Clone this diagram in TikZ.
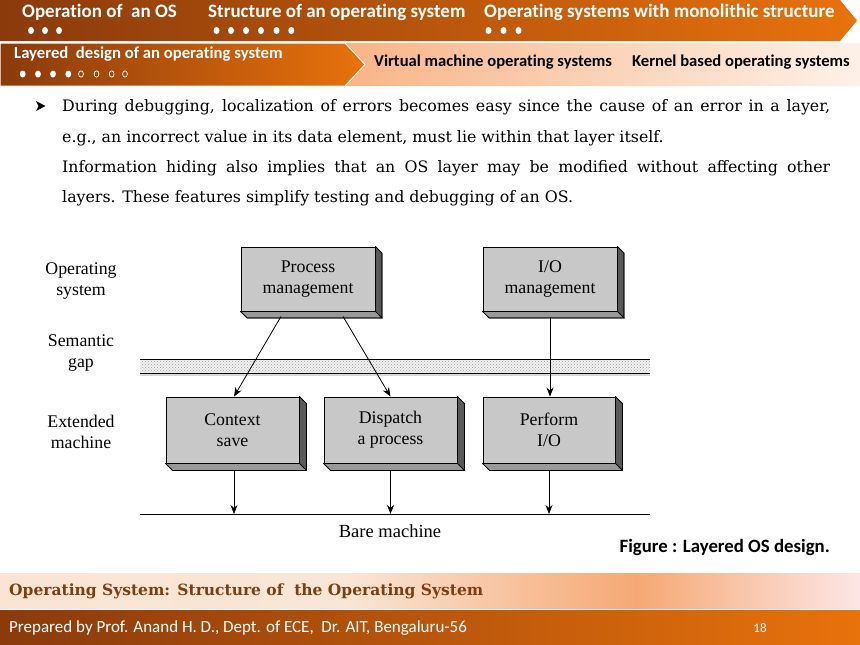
\documentclass[tikz,border=0pt]{standalone}
\usepackage{fontspec}
\setmainfont{Liberation Serif}
\newfontfamily\hdfont[Ligatures=CommonOff]{Carlito}
\newfontfamily\bodyfont{DejaVu Serif}
\usetikzlibrary{arrows.meta,patterns,calc}
\definecolor{hdark}{HTML}{8A3A0C}
\definecolor{horange}{HTML}{E8720C}
\definecolor{peachA}{HTML}{F8B486}
\definecolor{peachB}{HTML}{FDF1E8}
\definecolor{footA}{HTML}{FBE4D3}
\definecolor{footB}{HTML}{FAE6D6}
\definecolor{footC}{HTML}{F5A874}
\definecolor{footD}{HTML}{FCE6E6}
\definecolor{foottext}{HTML}{7B3F12}
\definecolor{boxgray}{HTML}{C8C8C8}
\pgfdeclarehorizontalshading{footband}{100bp}{color(0bp)=(footA); color(25bp)=(footA); color(45bp)=(footB); color(62bp)=(footC); color(75bp)=(footD); color(100bp)=(footD)}
\tikzset{
  hdtext/.style={font=\hdfont\bfseries\fontsize{19}{22}\selectfont, text=white, anchor=west, inner sep=0pt},
  subtext/.style={font=\hdfont\bfseries\fontsize{16.6}{19}\selectfont, text=black, anchor=west, inner sep=0pt},
  layerbox/.style={draw=black, line width=0.9pt, fill=boxgray, align=center, inner sep=0pt,
     font=\fontsize{17.8}{21}\selectfont},
  sideface/.style={fill=black!65, draw=black, line width=0.6pt},
  bottomface/.style={fill=black!40, draw=black, line width=0.6pt},
  layerlabel/.style={align=center, inner sep=0pt, font=\fontsize{17.8}{21}\selectfont},
  arr/.style={-{Stealth[length=9pt,width=7pt]}, line width=0.8pt},
  bodyline/.style={anchor=base west, inner sep=0pt, font=\bodyfont\fontsize{15.8}{18}\selectfont},
  wdot/.style={fill=white},
}
\newcommand{\threed}[2]{%
  \fill[sideface] (#1.north east) -- ++(#2,#2) |- ([xshift=#2pt,yshift=-#2pt]#1.south east) -- (#1.south east) -- cycle;
  \fill[bottomface] (#1.south west) -- (#1.south east) -- ++(#2,#2) -- ([xshift=#2pt,yshift=-#2pt]#1.south west) -- cycle;
  \draw[line width=0.6pt] (#1.north east) -- ++(#2,#2) -- ([xshift=#2pt,yshift=-#2pt]#1.south east) -- ([xshift=#2pt,yshift=-#2pt]#1.south west) -- (#1.south west);
  \draw[line width=0.6pt] (#1.south east) -- ([xshift=#2pt,yshift=-#2pt]#1.south east);
}
\begin{document}
\begin{tikzpicture}[x=1pt,y=-1pt]
\useasboundingbox (0,0) rectangle (860,645);
\fill[white] (0,0) rectangle (860,645);
% ---------- header row 1
\shade[left color=hdark, right color=horange] (0,0) -- (840,0) -- (857,20.5) -- (840,41) -- (0,41) -- cycle;
\node[hdtext] (h1) at (22,12) {Operation of \ an OS};
\node[hdtext] (h2) at (208,12) {Structure of an operating system};
\node[hdtext] (h3) at (484,12) {Operating systems with monolithic structure};
\foreach \x in {31,45,59} \fill[wdot] (\x,30.5) ellipse (3 and 3.6);
\foreach \x in {216.5,231,246,261,276.5,291.3} \fill[wdot] (\x,30.5) ellipse (3 and 3.6);
\foreach \x in {488.5,503.5,518.5} \fill[wdot] (\x,30.5) ellipse (3 and 3.6);
% ---------- header row 2
\shade[left color=peachA, right color=peachB] (340,43) -- (860,43) -- (860,86) -- (340,86) -- (358,64.5) -- cycle;
\shade[left color=hdark, right color=horange, draw=white, line width=1pt] (0,43) -- (345,43) -- (365,64.5) -- (345,86) -- (0,86) -- cycle;
\node[hdtext, font=\hdfont\bfseries\fontsize{16.7}{19}\selectfont] (h4) at (14,54) {Layered \ design of an operating system};
\foreach \x in {22.7,38,53,68.3} \fill[wdot] (\x,74) ellipse (2.9 and 3.5);
\foreach \x in {81,96.5,111.7,125} \draw[white, line width=0.7pt] (\x,74) ellipse (2.4 and 3.2);
\node[subtext] (h5) at (374,62) {Virtual machine operating systems};
\node[subtext] (h6) at (632,62) {Kernel based operating systems};
% ---------- body text
\fill[black] (36,101) -- (45.5,106) -- (36,111) -- (38.5,106) -- cycle;
\node[bodyline] (t1) at (62,111.5) {\makebox[768pt][s]{During debugging, localization of errors becomes easy since the cause of an error in a layer,}};
\node[bodyline] (t2) at (62,142) {e.g., an incorrect value in its data element, must lie within that layer itself.};
\node[bodyline] (t3) at (62,172.5) {\makebox[768pt][s]{Information hiding also implies that an OS layer may be modified without affecting other}};
\node[bodyline] (t4) at (62,202.5) {layers. These features simplify testing and debugging of an OS.};
% ---------- diagram
\node[layerlabel] (l1) at (81,281.5) {Operating\\system};
\node[layerlabel] (l2) at (81,353.5) {Semantic\\gap};
\node[layerlabel] (l3) at (81,432) {Extended\\machine};
% semantic gap band
\coordinate (sgL) at (140,359.5);
\coordinate (sgR) at (650,373);
\fill[black!5] (sgL) rectangle (sgR);
\fill[pattern=crosshatch dots, pattern color=black!40] (sgL) rectangle (sgR);
\fill[black!15] (140,373) rectangle (650,376);
\draw[line width=1.3pt] (sgL) -- (sgL -| sgR);
\draw[line width=1pt] (sgL |- sgR) -- (sgR);
% boxes
\node[layerbox, minimum width=134pt, minimum height=64pt] (pm) at (308,279) {Process\\management};
\node[layerbox, minimum width=134pt, minimum height=64pt] (io) at (550,279) {I/O\\management};
\node[layerbox, minimum width=133pt, minimum height=66pt] (cs) at (232.5,430) {Context\\save};
\node[layerbox, minimum width=133pt, minimum height=66pt] (dp) at (390.5,430) {Dispatch\\a process};
\node[layerbox, minimum width=132pt, minimum height=66pt] (pf) at (549,430) {Perform\\I/O};
\threed{pm}{6.5}
\threed{io}{6.5}
\threed{cs}{7}
\threed{dp}{7}
\threed{pf}{7}
% arrows from OS layer
\draw[arr] ([xshift=-27pt,yshift=-5pt]pm.south) -- ([xshift=1.5pt]cs.north);
\draw[arr] ([xshift=35pt,yshift=-5pt]pm.south) -- (dp.north);
\draw[arr] ([yshift=-6pt]io.south) -- (io.south |- pf.north);
% bare machine
\coordinate (bmL) at (140,514);
\coordinate (bmR) at (650,514);
\draw[line width=1pt] (bmL) -- (bmR);
\node[layerlabel, font=\fontsize{18.5}{21}\selectfont] (bm) at (390,531) {Bare machine};
\draw[arr] ([xshift=1.5pt,yshift=-7pt]cs.south) -- ([xshift=1.5pt]cs.south |- bmL);
\draw[arr] ([yshift=-7pt]dp.south) -- (dp.south |- bmL);
\draw[arr] ([yshift=-7pt]pf.south) -- (pf.south |- bmL);
\node[anchor=east, inner sep=0pt, font=\hdfont\bfseries\fontsize{18.8}{21}\selectfont] (cap) at (830,547) {Figure : Layered OS design.};
% ---------- footer
\shade[shading=footband] (0,573) rectangle (860,608);
\node[anchor=west, inner sep=0pt, text=foottext, font=\bodyfont\bfseries\fontsize{15.5}{18}\selectfont] (f1) at (9,591) {Operating System: Structure of \ the Operating System};
\shade[left color=hdark, right color=horange] (0,610) rectangle (860,645);
\node[anchor=west, inner sep=0pt, text=white, font=\hdfont\fontsize{17}{20}\selectfont] (f2) at (9,628.5) {Prepared by Prof. Anand H. D., Dept. of ECE, \ Dr. AIT, Bengaluru-56};
\node[inner sep=0pt, text=white, font=\hdfont\fontsize{13}{15}\selectfont] (f3) at (760,628) {18};
\end{tikzpicture}
\end{document}
